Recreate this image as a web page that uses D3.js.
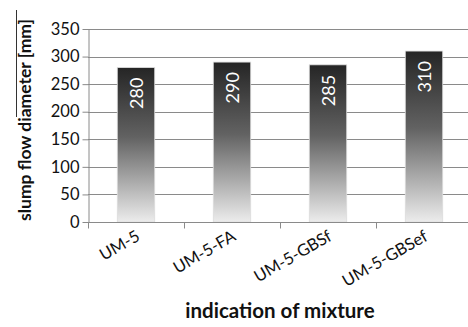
<!DOCTYPE html>
<html>
<head>
<meta charset="utf-8">
<script src="https://cdn.jsdelivr.net/npm/d3@7"></script>
<style>
  html, body { margin: 0; padding: 0; background: #fff; }
  svg { display: block; font-family: Lato, "Open Sans", sans-serif; }
</style>
</head>
<body>
<svg id="chart" width="468" height="327"></svg>
<script>
// Slump flow diameter per mixture
const mixtures = ["UM-5", "UM-5-FA", "UM-5-GBSf", "UM-5-GBSef"];
const diameters = [280, 290, 285, 310];
const yTicks = [0, 50, 100, 150, 200, 250, 300, 350];

const svg = d3.select("#chart");
const margin = { left: 88, right: -4, top: 29, bottom: 105 };
const W = 468, H = 327;

const x = d3.scaleBand()
  .domain(mixtures)
  .range([margin.left, W - margin.right])
  .paddingInner(0.61)
  .paddingOuter(0.305);

const y = d3.scaleLinear()
  .domain([0, 350])
  .range([H - margin.bottom, margin.top]);

// bar fill: dark at the top fading to light grey at the base
const grad = svg.append("defs").append("linearGradient")
  .attr("id", "barFill")
  .attr("x1", 0).attr("y1", 0).attr("x2", 0).attr("y2", 1);
grad.append("stop").attr("offset", "0%").attr("stop-color", "#252525");
grad.append("stop").attr("offset", "45%").attr("stop-color", "#626262");
grad.append("stop").attr("offset", "100%").attr("stop-color", "#ececec");

// horizontal grid
svg.append("g")
  .selectAll("line")
  .data(yTicks.filter(d => d > 0))
  .join("line")
  .attr("x1", margin.left).attr("x2", W)
  .attr("y1", d => Math.round(y(d)) + 0.5)
  .attr("y2", d => Math.round(y(d)) + 0.5)
  .attr("stroke", "#8a8a8a")
  .attr("stroke-width", 1);

// bars
svg.append("g")
  .selectAll("rect")
  .data(mixtures)
  .join("rect")
  .attr("x", d => x(d))
  .attr("width", x.bandwidth())
  .attr("y", (d, i) => y(diameters[i]))
  .attr("height", (d, i) => y(0) - y(diameters[i]))
  .attr("fill", "url(#barFill)")
  .attr("stroke", "#dcdcdc")
  .attr("stroke-width", 0.8);

// value labels inside the bars
svg.append("g")
  .selectAll("text")
  .data(mixtures)
  .join("text")
  .attr("transform", (d, i) =>
    `translate(${x(d) + x.bandwidth() / 2 + 6.5},${y(diameters[i]) + 10}) rotate(-90)`)
  .attr("text-anchor", "end")
  .attr("fill", "#fff")
  .attr("font-size", 18)
  .text((d, i) => diameters[i]);

// y axis
const yAxis = svg.append("g")
  .attr("transform", `translate(${margin.left + 0.5},0)`)
  .call(d3.axisLeft(y).tickValues(yTicks).tickSize(6).tickPadding(3).tickSizeOuter(0));
yAxis.select(".domain").attr("stroke", "#8a8a8a");
yAxis.selectAll(".tick line").attr("stroke", "#8a8a8a");
yAxis.selectAll(".tick text")
  .attr("font-size", 16.5)
  .attr("fill", "#111")
  .attr("font-family", "Lato, sans-serif");

// x axis: ticks sit on the category boundaries
const xBase = Math.round(y(0)) + 0.5;
const xg = svg.append("g");
xg.append("line")
  .attr("x1", margin.left).attr("x2", W)
  .attr("y1", xBase).attr("y2", xBase)
  .attr("stroke", "#8a8a8a");
const step = x.step();
xg.selectAll("line.tk")
  .data(d3.range(mixtures.length + 1))
  .join("line")
  .attr("class", "tk")
  .attr("x1", i => Math.round(margin.left + i * step) + 0.5)
  .attr("x2", i => Math.round(margin.left + i * step) + 0.5)
  .attr("y1", xBase).attr("y2", xBase + 6)
  .attr("stroke", "#8a8a8a");
xg.selectAll("text")
  .data(mixtures)
  .join("text")
  .attr("transform", d =>
    `translate(${x(d) + x.bandwidth() / 2 + 5},${xBase + 17}) rotate(-30)`)
  .attr("text-anchor", "end")
  .attr("font-size", 16.5)
  .attr("fill", "#111")
  .text(d => d);

// axis titles
svg.append("text")
  .attr("x", 280).attr("y", 318)
  .attr("text-anchor", "middle")
  .attr("font-size", 20.5)
  .attr("font-weight", "bold")
  .attr("fill", "#111")
  .text("indication of mixture");

svg.append("text")
  .attr("transform", "translate(31,120) rotate(-90)")
  .attr("text-anchor", "middle")
  .attr("font-size", 17.5)
  .attr("font-weight", "bold")
  .attr("fill", "#111")
  .text("slump flow diameter [mm]");

// rule over the upper part of the y title
svg.append("line")
  .attr("x1", 16.5).attr("x2", 16.5)
  .attr("y1", 10).attr("y2", 117)
  .attr("stroke", "#333")
  .attr("stroke-width", 1);
</script>
</body>
</html>
